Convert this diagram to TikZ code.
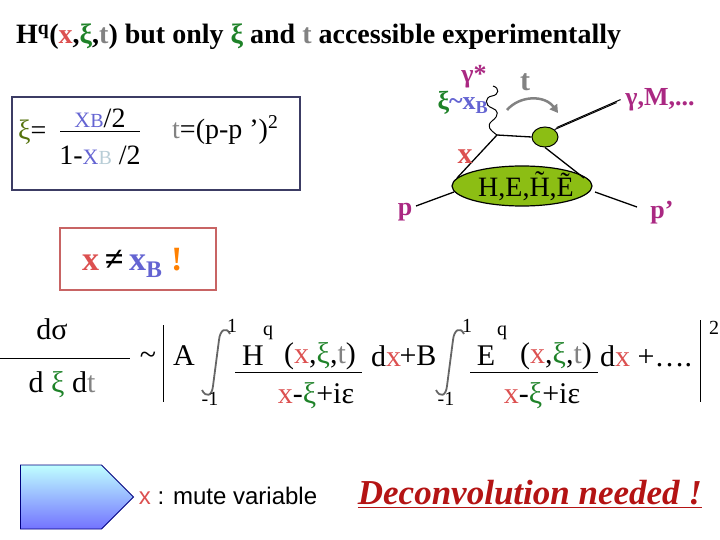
\documentclass[tikz,border=0pt]{standalone}
\usepackage{fontspec}
\setmainfont{Liberation Serif}
\newfontfamily\arialf{Liberation Sans}
\usetikzlibrary{shapes.arrows,shapes.geometric,arrows.meta}
\definecolor{mag}{RGB}{170,40,130}
\definecolor{rd}{RGB}{220,80,80}
\definecolor{gr}{RGB}{30,130,40}
\definecolor{gy}{RGB}{130,130,130}
\definecolor{bl}{RGB}{100,100,210}
\definecolor{lime}{RGB}{140,190,20}
\definecolor{boxb}{RGB}{60,60,100}
\definecolor{boxr}{RGB}{200,100,100}
\definecolor{dred}{RGB}{180,20,20}
\tikzset{lbl/.style={inner sep=0pt,anchor=center},
 fs/.style={font=\fontsize{30}{32}\selectfont},
 fb/.style={font=\fontsize{28}{30}\selectfont},
 sm/.style={font=\fontsize{20}{22}\selectfont},
 dl/.style={font=\fontsize{26}{28}\selectfont\bfseries},
 blob/.style={draw=black,line width=1.2pt,fill=lime,ellipse},
 intg/.style={draw=gray!80!black,line width=1.8pt},
 ln/.style={line width=1.3pt}}
\begin{document}
\begin{tikzpicture}[x=1pt,y=-1pt]
\useasboundingbox (0,0) rectangle (720,540);
% title
\node[lbl,anchor=west,font=\fontsize{28}{30}\selectfont\bfseries] (title) at (16,37)
 {H\textsuperscript{q}(\textcolor{rd}{x},\textcolor{gr}{ξ},\textcolor{gy}{t}) but only \textcolor{gr}{ξ} and \textcolor{gy}{t} accessible experimentally};
% blue box
\draw[boxb,line width=1.3pt] (12,97) rectangle (300,190);
\node[lbl,fb,anchor=west] (xi) at (18,132) {\textcolor{lime!60!black}{ξ}=};
\draw[line width=1pt] (60,132) -- (140,132);
\node[lbl,fb] (num) at (100,118) {\textcolor{bl}{\fontsize{22}{24}\selectfont X\fontsize{20}{22}\selectfont B}/2};
\node[lbl,fb] (den) at (100,155) {1-\textcolor{bl}{\fontsize{22}{24}\selectfont X}\textcolor{cyan!30!gray!50}{\fontsize{20}{22}\selectfont B} /2};
\node[lbl,fb,anchor=west] (tdef) at (172,130) {\textcolor{gy}{t}=(p-p ’)\textsuperscript{2}};
% red box
\draw[boxr,line width=1.3pt] (60,228) rectangle (216,290);
\node[lbl,anchor=west,font=\fontsize{34}{36}\selectfont\bfseries] (neq) at (82,263)
 {\textcolor{rd}{x}\,≠\,\textcolor{bl}{x\textsubscript{B}} \textcolor{orange}{!}};
% diagram
\node[blob,minimum width=140,minimum height=40] (big) at (522,186) {};
\node[lbl,fb] at (526,186) {H,E,\~{H},\~{E}};
\node[blob,minimum width=26,minimum height=20,line width=1pt] (small) at (545,137) {};
\coordinate (v) at (497,135);
\coordinate (pin) at (416,206);
\coordinate (pout) at (637,207);
\draw[ln] (v) -- (small.west);
\draw[ln] (v) -- (457,178);
\draw[ln] (small.south) -- (584,178);
\draw[ln] (pin) -- (454,192);
\draw[ln] (pout) -- (595,192);
\draw[line width=1pt] (small.north east) -- ++(62,-27);
\draw[line width=1pt] ([yshift=4]small.north east) ++(2,2) -- ++(64,-28);
\draw[line width=1pt] (v) .. controls (490,130) and (486,126) .. (492,121) .. controls (500,115) and (498,110) .. (492,108) .. controls (484,105) and (485,97) .. (492,96) .. controls (499,95) and (500,88) .. (493,86);
\draw[gy,line width=2.5pt,-{Triangle[length=8pt,width=9pt]}] (507,110) .. controls (520,95) and (545,95) .. (558,113);
\node[lbl,dl,text=mag] (gs) at (474,77) {γ*};
\node[lbl,font=\fontsize{30}{32}\selectfont\bfseries,text=gy] (tl) at (525,82) {t};
\node[lbl,dl] (xib) at (463,103) {\textcolor{gr}{ξ}\textcolor{bl}{\textasciitilde x\textsubscript{B}}};
\node[lbl,dl,text=mag] (gm) at (660,100) {γ,M,...};
\node[lbl,font=\fontsize{30}{32}\selectfont\bfseries,text=rd] (xl) at (465,157) {x};
\node[lbl,dl,text=mag] (pl) at (405,212) {p};
\node[lbl,dl,text=mag] (ppl) at (662,213) {p’};
% formula
\node[lbl,fs] (ds) at (52,329) {dσ};
\draw[line width=1pt] (0,358) -- (130,358);
\node[lbl,fs] (dxdt) at (62,385) {d \textcolor{gr}{ξ} d\textcolor{gy}{t}};
\node[lbl,fs] (tl2) at (148,358) {\textasciitilde};
\draw[line width=1pt] (163,325) -- (163,402);
\draw[line width=1pt] (700,320) -- (700,402);
\node[lbl,fs] (A) at (184,356) {A};
\draw[intg] (230,334) .. controls (226,326) and (220,330) .. (219,340) -- (213,386) .. controls (212,396) and (206,398) .. (202,390);
\node[lbl,sm] at (232,326) {1};
\node[lbl,sm] at (210,399) {-1};
\draw[line width=1pt] (235,372) -- (362,372);
\node[lbl,fs] (H) at (253,356) {H};
\node[lbl,sm] at (268,333) {q};
\node[lbl,fs] at (320,356) {(\textcolor{rd}{x},\textcolor{gr}{ξ},\textcolor{gy}{t})};
\node[lbl,fs] at (316,396) {\textcolor{rd}{x}-\textcolor{gr}{ξ}+iε};
\node[lbl,fs] at (386,356) {d\textcolor{rd}{x}};
\node[lbl,fs] (B) at (418,356) {+B};
\draw[intg] (464,334) .. controls (460,326) and (454,330) .. (453,340) -- (447,386) .. controls (446,396) and (440,398) .. (436,390);
\node[lbl,sm] at (467,326) {1};
\node[lbl,sm] at (446,399) {-1};
\draw[line width=1pt] (470,372) -- (598,372);
\node[lbl,fs] (E) at (486,356) {E};
\node[lbl,fs] at (556,356) {(\textcolor{rd}{x},\textcolor{gr}{ξ},\textcolor{gy}{t})};
\node[lbl,fs] at (542,396) {\textcolor{rd}{x}-\textcolor{gr}{ξ}+iε};
\node[lbl,sm] at (502,333) {q};
\node[lbl,fs,anchor=west] at (600,356) {d\textcolor{rd}{x} +….};
\node[lbl,sm] at (714,328) {2};
% bottom
\node[single arrow,draw=blue!50!black,line width=0.8pt,top color=cyan!25,bottom color=blue!55,shading angle=0,
 minimum height=113,minimum width=64,single arrow head extend=0,inner sep=0,single arrow tip angle=90,single arrow head indent=0] (arr) at (61,497) {};
\node[lbl,font=\arialf\fontsize{24}{26}\selectfont] (mute) at (228,496) {\textcolor{rd}{x} : mute variable};
\node[lbl,font=\fontsize{35}{37}\selectfont\bfseries\itshape,text=dred] (dec) at (530,494) {\underline{Deconvolution needed !}};
\end{tikzpicture}
\end{document}
